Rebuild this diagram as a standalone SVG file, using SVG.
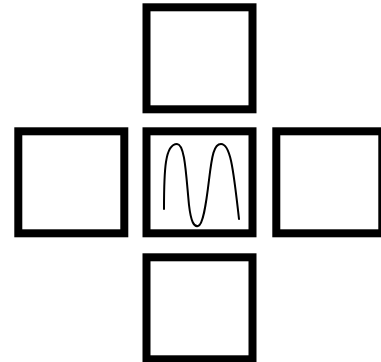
<svg xmlns="http://www.w3.org/2000/svg" width="381" height="362" viewBox="0 0 381 362">
<style>
.box{fill:#fff;stroke:#000;stroke-width:8}
.wave{fill:none;stroke:#000;stroke-width:2;stroke-linecap:round}
</style>
<rect width="381" height="362" fill="#fff"/>
<g id="top"><rect class="box" x="146.5" y="7.3" width="106" height="102"/></g>
<g id="left"><rect class="box" x="18.3" y="131.3" width="106" height="102"/></g>
<g id="center"><rect class="box" x="146.5" y="131.3" width="106" height="102"/>
<path class="wave" d="M164,209 C164,170 165,144 177,144 C185,144 186,175 189,205 C191,222 194,227 198,226 C203,225 206,205 209,180 C212,155 214,144 221,144 C230,144 233,165 239,219"/></g>
<g id="right"><rect class="box" x="276.3" y="131.3" width="106" height="102"/></g>
<g id="bottom"><rect class="box" x="146.5" y="257.3" width="106" height="102"/></g>
<g id="connectors"></g>
</svg>
